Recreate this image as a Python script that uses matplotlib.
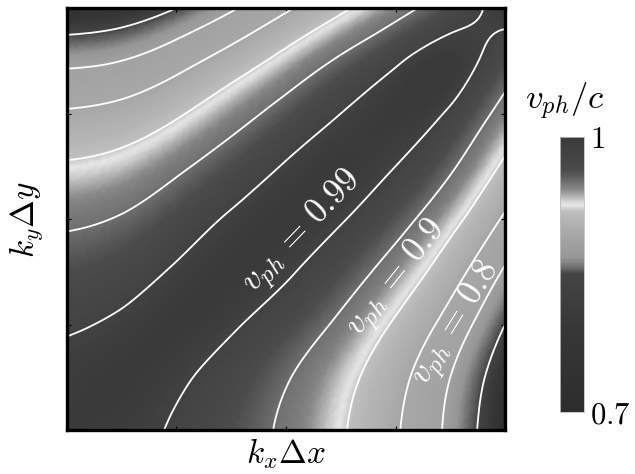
import numpy as np
import matplotlib
matplotlib.use("Agg")
import matplotlib.pyplot as plt
import matplotlib.tri as mtri
from matplotlib.colors import LinearSegmentedColormap, FuncNorm

plt.rcParams["mathtext.fontset"] = "cm"

# phase velocity v_ph/c on a 9x9 grid,
# kx*dx (columns) and ky*dy (rows) going from 0 to pi
vph = [
    [1.000, 0.997, 0.987, 0.969, 0.943, 0.905, 0.855, 0.789, 0.707],
    [0.997, 1.000, 0.994, 0.978, 0.953, 0.916, 0.866, 0.800, 0.719],
    [0.987, 0.994, 1.000, 0.993, 0.974, 0.942, 0.894, 0.831, 0.750],
    [0.969, 0.978, 0.993, 1.000, 0.993, 0.970, 0.931, 0.872, 0.794],
    [0.943, 0.953, 0.974, 0.993, 1.000, 0.992, 0.965, 0.916, 0.843],
    [0.905, 0.916, 0.942, 0.970, 0.992, 1.000, 0.990, 0.956, 0.891],
    [0.855, 0.866, 0.894, 0.931, 0.965, 0.990, 1.000, 0.986, 0.934],
    [0.789, 0.800, 0.831, 0.872, 0.916, 0.956, 0.986, 1.000, 0.971],
    [0.707, 0.719, 0.750, 0.794, 0.843, 0.891, 0.934, 0.971, 1.000],
]
levels = [0.75, 0.8, 0.85, 0.9, 0.95, 0.99]
label_text = [r"$v_{ph}\,=\,0.99$", r"$v_{ph}\,=\,0.9$", r"$v_{ph}\,=\,0.8$"]
label_kx = [1.69, 2.37, 2.80]
label_ky = [1.47, 1.12, 0.79]
label_rot = [46, 51, 58]

# grey colour map as seen on the colour bar (0 = bottom, 1 = top)
cmap_pos = [0, 0.3, 0.5, 0.53, 0.56, 0.65, 0.73, 0.755, 0.78, 0.82, 0.88, 1.0]
cmap_grey = [45, 55, 68, 115, 150, 168, 190, 232, 185, 125, 75, 58]
cmap = LinearSegmentedColormap.from_list(
    "greys_band", [(p, (g / 255,) * 3) for p, g in zip(cmap_pos, cmap_grey)])

# non linear stretch of v_ph onto the bar
v_knots = [0.70, 0.73, 0.75, 0.765, 0.78, 0.80, 0.85, 0.88, 0.90, 0.907,
           0.915, 0.93, 0.95, 0.97, 0.99, 1.00]
p_knots = [0, 0.3, 0.50, 0.525, 0.56, 0.62, 0.645, 0.69, 0.735, 0.755,
           0.77, 0.81, 0.835, 0.88, 0.94, 1.0]


def fwd(v):
    return np.interp(v, v_knots, p_knots)


def inv(p):
    return np.interp(p, p_knots, v_knots)


norm = FuncNorm((fwd, inv), vmin=0.7, vmax=1.0)

V = np.array(vph)
n = V.shape[0]
k = np.linspace(0, np.pi, n)
KX, KY = np.meshgrid(k, k)

# split every cell along the lower-left -> upper-right diagonal
tris = []
for j in range(n - 1):
    for i in range(n - 1):
        p0 = j * n + i
        tris.append([p0, p0 + 1, p0 + n + 1])
        tris.append([p0, p0 + n + 1, p0 + n])
tri = mtri.Triangulation(KX.ravel(), KY.ravel(), np.array(tris))
interp = mtri.CubicTriInterpolator(tri, V.ravel(), kind="min_E")
tri_f, v_f = mtri.UniformTriRefiner(tri).refine_field(
    V.ravel(), triinterpolator=interp, subdiv=4)

fig = plt.figure(figsize=(6.35, 4.74), dpi=100)
ax = fig.add_axes([0.1055, 0.0928, 0.6898, 0.8903])

mesh = ax.tripcolor(tri_f, v_f, shading="gouraud", cmap=cmap, norm=norm)
ax.tricontour(tri_f, v_f, levels=levels, colors="white", linewidths=1.3)

for txt, x, y, r in zip(label_text, label_kx, label_ky, label_rot):
    ax.text(x, y, txt, rotation=r, rotation_mode="anchor", ha="center",
            va="center", color="white", fontsize=25)

ax.set_xlim(0, np.pi)
ax.set_ylim(0, np.pi)
quarter = [np.pi / 4, np.pi / 2, 3 * np.pi / 4]
ax.set_xticks(quarter, labels=[""] * 3)
ax.set_yticks(quarter, labels=[""] * 3)
ax.tick_params(direction="in", length=3, width=0.8, top=True, right=True)
for s in ax.spines.values():
    s.set_linewidth(2.4)
ax.set_xlabel(r"$k_x\Delta x$", fontsize=24, labelpad=1)
ax.set_ylabel(r"$k_y\Delta y$", fontsize=24, labelpad=12)

cax = fig.add_axes([0.882, 0.131, 0.038, 0.580])
cb = fig.colorbar(mesh, cax=cax)
cb.set_ticks([0.7, 1.0], labels=["$0.7$", "$1$"])
cb.ax.tick_params(length=0, pad=4, labelsize=22)
cb.outline.set_linewidth(0.6)
cb.outline.set_edgecolor("0.75")
fig.text(0.89, 0.785, r"$v_{ph}/c$", ha="center", va="center", fontsize=25)

fig.savefig("out.png", dpi=100)
